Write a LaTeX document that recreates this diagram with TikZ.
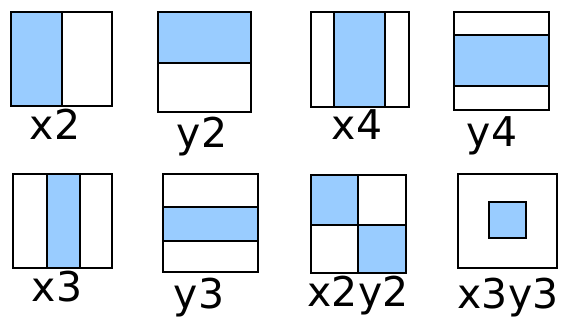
\documentclass[tikz,border=0pt]{standalone}
\usepackage{fontspec}
\setmainfont{DejaVu Sans}
\definecolor{tileblue}{HTML}{99CCFF}
\begin{document}
\begin{tikzpicture}[x=1pt,y=-1pt,line width=1.8pt,
  tile/.style={draw=black,fill=white},
  part/.style={draw=black,fill=tileblue},
  lbl/.style={anchor=base,inner sep=0pt,font=\fontsize{41}{41}\selectfont}]
  \useasboundingbox (0,0) rectangle (563,320);
  % Top row
  \draw[tile] (11,12) rectangle (112,106);
  \draw[part] (11,12) rectangle (62,106);
  \node[lbl] (x2) at (55,140) {x2};

  \draw[tile] (158,12) rectangle (251,112);
  \draw[part] (158,12) rectangle (251,63);
  \node[lbl] (y2) at (202,148) {y2};

  \draw[tile] (311,12) rectangle (409,107);
  \draw[part] (334,12) rectangle (385,107);
  \node[lbl] (x4) at (357,140) {x4};

  \draw[tile] (454,12) rectangle (549,110);
  \draw[part] (454,35) rectangle (549,86);
  \node[lbl] (y4) at (492,147) {y4};

  % Bottom row
  \draw[tile] (13,174) rectangle (112,268);
  \draw[part] (47,174) rectangle (80,268);
  \node[lbl] (x3) at (57,302) {x3};

  \draw[tile] (163,174) rectangle (258,272);
  \draw[part] (163,207) rectangle (258,241);
  \node[lbl] (y3) at (199,309) {y3};

  \draw[tile] (311,175) rectangle (406,273);
  \draw[part] (311,175) rectangle (358,225);
  \draw[part] (358,225) rectangle (406,273);
  \node[lbl] (x2y2) at (358,307) {x2y2};

  \draw[tile] (458,174) rectangle (557,268);
  \draw[part] (489,202) rectangle (526,238);
  \node[lbl] (x3y3) at (508,309) {x3y3};
\end{tikzpicture}
\end{document}
